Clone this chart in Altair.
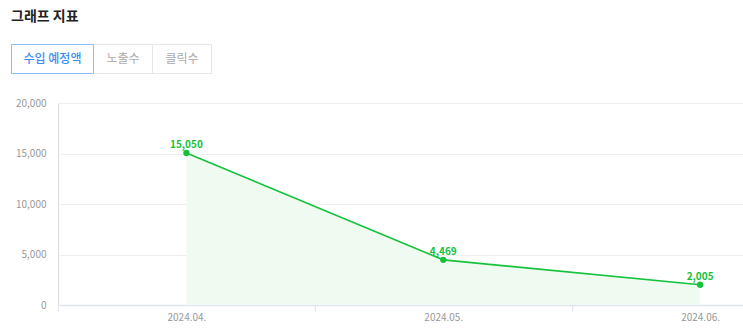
import altair as alt
import pandas as pd

months = ["2024.04.", "2024.05.", "2024.06."]
values = [15050, 4469, 2005]
y_ticks = [0, 5000, 10000, 15000, 20000]
tabs = ["수입 예정액", "노출수", "클릭수"]
title_text = "그래프 지표"

FONT = "Noto Sans CJK KR"
GREEN = "#14c23c"

df = pd.DataFrame({"idx": list(range(len(months))), "month": months, "value": values})
df["label"] = [f"{v:,}" for v in values]

label_expr = "[" + ",".join(f"'{m}'" for m in months) + "][datum.value]"

x = alt.X(
    "idx:Q",
    scale=alt.Scale(domain=[-0.5, 2.167], nice=False, zero=False),
    axis=alt.Axis(
        values=list(range(len(months))),
        labelExpr=label_expr,
        title=None,
        grid=False,
        ticks=True,
        tickSize=6,
        tickColor="#dfe4f0",
        tickOffset=-128.5,
        labelOffset=128.5,
        domainColor="#dfe4f0",
        domainWidth=1.5,
        labelColor="#999999",
        labelFontSize=10,
        labelFont=FONT,
        labelPadding=1,
    ),
)
y = alt.Y(
    "value:Q",
    scale=alt.Scale(domain=[0, 20000], nice=False),
    axis=alt.Axis(
        values=y_ticks,
        format=",d",
        title=None,
        domain=False,
        ticks=False,
        gridColor="#efefef",
        gridWidth=1,
        labelColor="#999999",
        labelFontSize=10,
        labelFont=FONT,
        labelPadding=12,
    ),
)

base = alt.Chart(df)
area = base.mark_area(color="#effbf1", opacity=1).encode(x=x, y=y)
line = base.mark_line(color=GREEN, strokeWidth=1.6).encode(x=x, y=y)
pts = base.mark_point(color=GREEN, filled=True, size=40, opacity=1).encode(x=x, y=y)
lbl = base.mark_text(color=GREEN, fontWeight="bold", fontSize=10, font=FONT, dy=-8).encode(
    x=x, y=y, text="label:N"
)

one = pd.DataFrame({"a": [0]})
deco = []
# title
deco.append(
    alt.Chart(one).mark_text(
        text=title_text, font=FONT, fontSize=14, fontWeight="bold", color="#222222",
        align="left", baseline="middle",
    ).encode(x=alt.value(-47), y=alt.value(-86))
)
# tabs
tab_x = [(-46.5, 35.5), (35.5, 94.5), (94.5, 153.5)]
for i, (t, (x0, x1)) in enumerate(zip(tabs, tab_x)):
    if i == 0:
        continue
    deco.append(
        alt.Chart(one).mark_rect(fill="white", stroke="#e6e6e6", strokeWidth=1).encode(
            x=alt.value(x0), x2=alt.value(x1), y=alt.value(-58.5), y2=alt.value(-29.5)
        )
    )
x0, x1 = tab_x[0]
deco.append(
    alt.Chart(one).mark_rect(fill="white", stroke="#8cbdf6", strokeWidth=1).encode(
        x=alt.value(x0), x2=alt.value(x1), y=alt.value(-58.5), y2=alt.value(-29.5)
    )
)
for i, (t, (x0, x1)) in enumerate(zip(tabs, tab_x)):
    deco.append(
        alt.Chart(one).mark_text(
            text=t, font=FONT, fontSize=12, color="#3d8ef2" if i == 0 else "#aaaaaa",
            fontWeight=500 if i == 0 else "normal",
            align="center", baseline="middle",
        ).encode(x=alt.value((x0 + x1) / 2), y=alt.value(-44))
    )

chart = alt.layer(area, line, pts, lbl, *deco).properties(
    width=685,
    height=202,
    padding={"left": 58, "top": 103, "right": 0, "bottom": 31},
    autosize=alt.AutoSizeParams(type="none"),
).configure_view(stroke=None).configure(background="white")

chart.save("out.html", embed_options={"renderer": "svg", "actions": False})
